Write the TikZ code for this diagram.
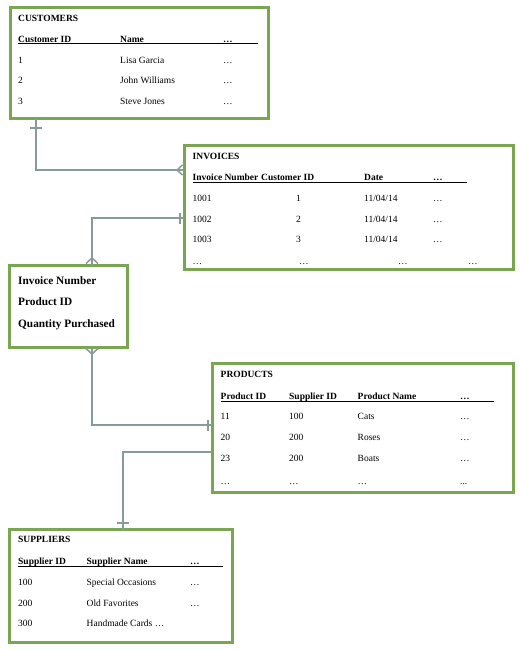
\documentclass[tikz,border=0pt]{standalone}
\usepackage{fontspec}
\setmainfont{Liberation Serif}
\definecolor{boxgreen}{RGB}{122,166,84}
\definecolor{conngray}{RGB}{135,155,155}
\tikzset{
 tbl/.style={draw=boxgreen, line width=3pt, rectangle, inner sep=0pt, outer sep=0pt, fill=white, anchor=north west},
 txt/.style={anchor=base west, inner sep=0pt, font=\fontsize{9.5}{11}\selectfont},
 hd/.style={txt, font=\fontsize{9.5}{11}\selectfont\bfseries},
 big/.style={txt, font=\fontsize{11.3}{13}\selectfont\bfseries},
 conn/.style={draw=conngray, line width=2pt},
 connthin/.style={draw=conngray, line width=1.5pt},
 uline/.style={draw=black, line width=1pt},
}
\begin{document}
\begin{tikzpicture}[x=1pt,y=-1pt]
\path[fill=white] (0,0) rectangle (520,650);
\useasboundingbox (0,0) rectangle (520,650);
% boxes
\node[tbl, minimum width=258pt, minimum height=111.5pt] (cust) at (10,7.5) {};
\node[tbl, minimum width=329pt, minimum height=123.5pt] (inv) at (184,145.5) {};
\node[tbl, minimum width=117.5pt, minimum height=82pt] (junc) at (9.5,265) {};
\node[tbl, minimum width=301.5pt, minimum height=129pt] (prod) at (212,363) {};
\node[tbl, minimum width=222.5pt, minimum height=112.5pt] (supp) at (9.5,529.5) {};
% customers
\node[hd] (ct) at (18,22) {CUSTOMERS};
\node[hd] (ch1) at (18,42.5) {Customer ID};
\node[hd] (ch2) at (120,42.5) {Name};
\node[hd] (ch3) at (223,42.5) {…};
\draw[uline] (18,44) -- (258,44);
\node[txt] (c11) at (18,63.5) {1};
\node[txt] (c12) at (120,63.5) {Lisa Garcia};
\node[txt] (c13) at (223,63.5) {…};
\node[txt] (c21) at (18,84) {2};
\node[txt] (c22) at (120,84) {John Williams};
\node[txt] (c23) at (223,84) {…};
\node[txt] (c31) at (18,104.5) {3};
\node[txt] (c32) at (120,104.5) {Steve Jones};
\node[txt] (c33) at (223,104.5) {…};
% invoices
\node[hd] (it) at (192.5,159.5) {INVOICES};
\node[hd] (ih1) at (192.5,180) {Invoice Number};
\node[hd] (ih2) at (261,180) {Customer ID};
\node[hd] (ih3) at (364,180) {Date};
\node[hd] (ih4) at (433,180) {…};
\draw[uline] (192.5,182) -- (467,182);
\node[txt] (i11) at (192.5,201.5) {1001};
\node[txt] (i12) at (296,201.5) {1};
\node[txt] (i13) at (364,201.5) {11/04/14};
\node[txt] (i14) at (433,201.5) {…};
\node[txt] (i21) at (192.5,222) {1002};
\node[txt] (i22) at (296,222) {2};
\node[txt] (i23) at (364,222) {11/04/14};
\node[txt] (i24) at (433,222) {…};
\node[txt] (i31) at (192.5,242.5) {1003};
\node[txt] (i32) at (296,242.5) {3};
\node[txt] (i33) at (364,242.5) {11/04/14};
\node[txt] (i34) at (433,242.5) {…};
\node[txt] (i41) at (192.5,264) {…};
\node[txt] (i42) at (299,264) {…};
\node[txt] (i43) at (398,264) {…};
\node[txt] (i44) at (468,264) {…};
% junction
\node[big] (j1) at (18,284) {Invoice Number};
\node[big] (j2) at (18,305.5) {Product ID};
\node[big] (j3) at (18,327.5) {Quantity Purchased};
% products
\node[hd] (pt) at (220.5,377.5) {PRODUCTS};
\node[hd] (ph1) at (220.5,399) {Product ID};
\node[hd] (ph2) at (289,399) {Supplier ID};
\node[hd] (ph3) at (357.5,399) {Product Name};
\node[hd] (ph4) at (460,399) {…};
\draw[uline] (220.5,401) -- (494,401);
\node[txt] (p11) at (220.5,419) {11};
\node[txt] (p12) at (289,419) {100};
\node[txt] (p13) at (357.5,419) {Cats};
\node[txt] (p14) at (460,419) {…};
\node[txt] (p21) at (220.5,440) {20};
\node[txt] (p22) at (289,440) {200};
\node[txt] (p23) at (357.5,440) {Roses};
\node[txt] (p24) at (460,440) {…};
\node[txt] (p31) at (220.5,461) {23};
\node[txt] (p32) at (289,461) {200};
\node[txt] (p33) at (357.5,461) {Boats};
\node[txt] (p34) at (460,461) {…};
\node[txt] (p41) at (220.5,484) {…};
\node[txt] (p42) at (289,484) {…};
\node[txt] (p43) at (357.5,484) {…};
\node[txt] (p44) at (460,484) {...};
% suppliers
\node[hd] (st) at (18,542) {SUPPLIERS};
\node[hd] (sh1) at (18,564) {Supplier ID};
\node[hd] (sh2) at (86.5,564) {Supplier Name};
\node[hd] (sh3) at (190,564) {…};
\draw[uline] (18,566.5) -- (222.5,566.5);
\node[txt] (s11) at (18,585) {100};
\node[txt] (s12) at (86.5,585) {Special Occasions};
\node[txt] (s13) at (190,585) {…};
\node[txt] (s21) at (18,606) {200};
\node[txt] (s22) at (86.5,606) {Old Favorites};
\node[txt] (s23) at (190,606) {…};
\node[txt] (s31) at (18,626.5) {300};
\node[txt] (s32) at (86.5,626.5) {Handmade Cards …};
% connectors
\coordinate (k1) at (36,170);
\draw[conn] (cust.south -| k1) -- (k1) -- (inv.west |- k1);
\draw[conn] (30,128) -- (42,128);
\draw[connthin] (177,170) -- (182.5,165) (177,170) -- (182.5,175);
\coordinate (k2) at (92,218);
\draw[connthin] (inv.west |- k2) -- (k2) -- (junc.north -| k2);
\draw[connthin] (180,212.5) -- (180,223.5);
\draw[connthin] (92,258) -- (86,263.5) (92,258) -- (98,263.5);
\coordinate (k3) at (92,425);
\draw[conn] (junc.south -| k3) -- (k3) -- (prod.west |- k3);
\draw[connthin] (92,354) -- (86,348.5) (92,354) -- (98,348.5);
\draw[connthin] (208,419.5) -- (208,430.5);
\coordinate (k4) at (123,452);
\draw[connthin] (prod.west |- k4) -- (k4) -- (supp.north -| k4);
\draw[connthin] (117,523) -- (129,523);
\end{tikzpicture}
\end{document}
